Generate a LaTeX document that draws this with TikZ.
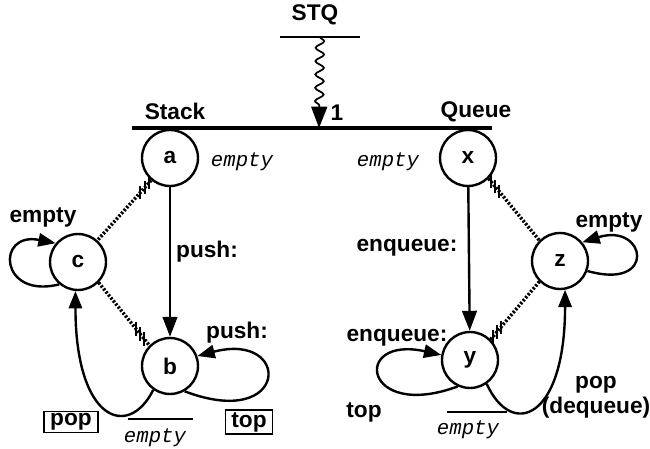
\documentclass[tikz,border=0pt]{standalone}
\usepackage{fontspec}
\setmainfont{Liberation Sans}
\setmonofont{Liberation Mono}
\usetikzlibrary{arrows.meta,decorations.pathmorphing}

\begin{document}
\begin{tikzpicture}[x=0.75pt,y=0.75pt,yscale=-1,xscale=1,
  st/.style={circle, draw, line width=1.8pt, minimum size=42pt, inner sep=0pt, font=\fontsize{17}{20}\selectfont\bfseries},
  lab/.style={inner sep=0.75pt, font=\fontsize{17}{20}\selectfont\bfseries},
  emp/.style={inner sep=0.75pt, font=\fontsize{15.5}{18}\selectfont\ttfamily\itshape},
  box/.style={lab, draw, line width=1.2pt, inner xsep=4.5pt, inner ysep=1.5pt},
  arr/.style={line width=1.8pt, -{Triangle[length=15pt,width=11pt]}},
  loopy/.style={line width=1.8pt, -{Triangle[length=13pt,width=10pt]}},
  hatch/.style={line width=2.6pt, dash pattern=on 1.6pt off 1.3pt},
  tick/.style={inner sep=0pt, minimum width=1.5pt, minimum height=10pt, fill=black},
  wavy/.style={line width=1.3pt, decorate, decoration={snake, amplitude=3.2pt, segment length=10pt, post length=17pt}, -{Triangle[length=16pt,width=12pt]}}
]
\useasboundingbox (0,0) rectangle (650,449);

% States
\node[st] (a) at (170,158) {a};
\node[st] (b) at (170,366) {b};
\node[st] (c) at (78,262) {c};
\node[st] (x) at (468,158) {x};
\node[st] (y) at (470,360) {y};
\node[st] (z) at (560,261) {z};

% Top
\node[lab] (stq) at (315,15) {STQ};
\coordinate (stqL) at (280,37);
\coordinate (stqR) at (360,37);
\draw[line width=1.2pt] (stqL) -- (stqR);
\coordinate (barL) at (132,128);
\coordinate (barR) at (492,128);
\coordinate (wtop) at (320,37);
\coordinate (wbot) at (319,128);
\draw[line width=2.4pt] (barL) -- (barR);
\draw[wavy] (wtop) -- (wbot);
\node[lab] (one) at (337,113) {1};
\node[lab] (stack) at (175,111) {Stack};
\node[lab] (queue) at (476,112) {Queue};

%Straight Lines
\draw[arr] (a) -- (b);
\draw[arr] (x) -- (y);

% Loops
\draw[loopy] (c.230) .. controls +(-60,15) and +(-60,-12) .. (c.140);
\draw[loopy] (b.300) .. controls +(105,40) and +(95,-25) .. (b.20);
\draw[loopy] (y.245) .. controls +(-95,35) and +(-90,-20) .. (y.170);
\draw[loopy] (z.340) .. controls +(70,20) and +(64,-20) .. (z.40);
\draw[loopy] (b.235) .. controls +(-25,50) and +(0,130) .. (c.265);
\draw[loopy] (y.305) .. controls +(25,55) and +(0,130) .. (z.280);

% Hatched lines
\draw[hatch] (a.230) -- (c.48) foreach \p [count=\i] in {0.04,0.12,0.2} {node[tick,pos=\p] (tac\i) {}};
\draw[hatch] (c.315) -- (b.135) foreach \p [count=\i] in {0.74,0.82,0.9} {node[tick,pos=\p] (tcb\i) {}};
\draw[hatch] (x.315) -- (z.135) foreach \p [count=\i] in {0.05,0.13,0.21} {node[tick,pos=\p] (txz\i) {}};
\draw[hatch] (y.45) -- (z.225) foreach \p [count=\i] in {0.05,0.13,0.21} {node[tick,pos=\p] (tyz\i) {}};

% Text Node
\node[lab] (pushab) at (207,252) {push:};
\node[lab] (pushb) at (237,333) {push:};
\node[lab] (emptyc) at (43,217) {empty};
\node[lab] (enqxy) at (407,248) {enqueue:};
\node[lab] (enqy) at (397,338) {enqueue:};
\node[lab] (emptyz) at (609,222) {empty};
\node[lab] (topy) at (364,412) {top};
\node[lab] (popz) at (596,385) {pop};
\node[lab] (deq) at (596,408) {(dequeue)};
\node[box] (popb) at (71,422) {pop};
\node[box] (topb) at (249,422) {top};

% empty
\node[emp] (ea) at (242,162) {empty};
\node[emp] (ex) at (388,162) {empty};
\node[emp] (eb) at (155,438) {empty};
\node[emp] (ey) at (468,430) {empty};
\coordinate (ebL) at (128,419);
\coordinate (ebR) at (193,419);
\coordinate (eyL) at (447,412);
\coordinate (eyR) at (507,412);
\draw[line width=0.8pt] (ebL) -- (ebR);
\draw[line width=0.8pt] (eyL) -- (eyR);

\end{tikzpicture}
\end{document}
